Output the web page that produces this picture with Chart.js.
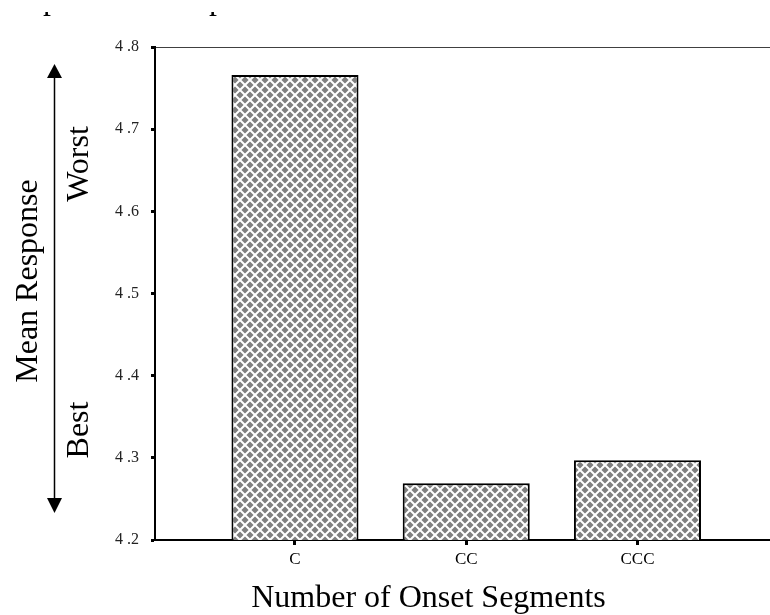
<!DOCTYPE html>
<html>
<head>
<meta charset="utf-8">
<script src="https://cdn.jsdelivr.net/npm/chart.js@4"></script>
<style>
  html, body { margin: 0; padding: 0; background: #fff; overflow: hidden; }
  #chart { display: block; }
</style>
</head>
<body>
<canvas id="chart" width="770" height="615"></canvas>
<script>
const categories = ["C", "CC", "CCC"];
const meanResponse = [4.766, 4.269, 4.297];
const yTicks = [4.2, 4.3, 4.4, 4.5, 4.6, 4.7, 4.8];
const xTitle = "Number of Onset Segments";
const yTitle = "Mean Response";
const topLabel = "Worst";
const bottomLabel = "Best";

const serif = '"Liberation Serif", "Times New Roman", serif';
Chart.defaults.font.family = serif;
Chart.defaults.color = "#000";

// grey fill with white cross-hatching
function makeHatch() {
  const tile = document.createElement("canvas");
  tile.width = 10;
  tile.height = 10;
  const t = tile.getContext("2d");
  t.fillStyle = "#7f7f7f";
  t.fillRect(0, 0, 10, 10);
  t.strokeStyle = "#fff";
  t.lineWidth = 2;
  for (let k = -1; k <= 1; k++) {
    t.beginPath();
    t.moveTo(k * 10, 0);
    t.lineTo(k * 10 + 10, 10);
    t.moveTo(k * 10 + 10, 0);
    t.lineTo(k * 10, 10);
    t.stroke();
  }
  return t.createPattern(tile, "repeat");
}

const ctx = document.getElementById("chart");
const hatch = makeHatch();

// titles, the worst/best arrow and clipped text at the top
const decorations = {
  id: "decorations",
  afterDraw(chart) {
    const c = chart.ctx;
    c.save();
    c.fillStyle = "#000";
    c.strokeStyle = "#000";
    c.font = "32px " + serif;
    c.textBaseline = "alphabetic";
    c.textAlign = "center";
    c.fillText(xTitle, 428.5, 607);

    const rotated = (text, x, y) => {
      c.save();
      c.translate(x, y);
      c.rotate(-Math.PI / 2);
      c.fillText(text, 0, 0);
      c.restore();
    };
    rotated(yTitle, 37, 281);
    rotated(topLabel, 88, 164);
    rotated(bottomLabel, 88, 430);

    c.lineWidth = 1.5;
    c.beginPath();
    c.moveTo(54.5, 76);
    c.lineTo(54.5, 500);
    c.stroke();
    c.beginPath();
    c.moveTo(54.5, 64);
    c.lineTo(47, 78);
    c.lineTo(62, 78);
    c.closePath();
    c.fill();
    c.beginPath();
    c.moveTo(54.5, 513);
    c.lineTo(47, 498);
    c.lineTo(62, 498);
    c.closePath();
    c.fill();

    // bits of a line of text cut off at the top edge
    c.beginPath();
    c.rect(0, 12, 770, 8);
    c.clip();
    c.textAlign = "left";
    c.fillText("p", 43, 9);
    c.fillText("p", 209, 9);
    c.restore();
  },
};

new Chart(ctx, {
  type: "bar",
  data: {
    datasets: [
      {
        label: yTitle,
        data: meanResponse.map((v, i) => ({ x: i, y: v })),
        backgroundColor: hatch,
        borderColor: "#000",
        borderWidth: 2,
        borderSkipped: false,
        categoryPercentage: 1,
        barPercentage: 0.742,
      },
    ],
  },
  options: {
    responsive: false,
    animation: false,
    layout: { padding: { top: 47, left: 0, right: 0, bottom: 0 } },
    plugins: {
      legend: { display: false },
      tooltip: { enabled: false },
    },
    scales: {
      x: {
        type: "linear",
        offset: false,
        min: -0.8175,
        max: 2.774,
        afterFit: (scale) => { scale.height = 75; },
        afterBuildTicks: (scale) => {
          scale.ticks = categories.map((_, i) => ({ value: i }));
        },
        ticks: {
          font: { size: 17 },
          color: "#000",
          padding: 4,
          callback: (v) => categories[v] ?? "",
        },
        grid: {
          offset: false,
          drawOnChartArea: false,
          tickLength: 5,
          tickWidth: 3,
          tickColor: "#000",
        },
        border: { color: "#000", width: 2 },
      },
      y: {
        min: yTicks[0],
        max: yTicks[yTicks.length - 1],
        afterFit: (scale) => { scale.width = 155; },
        afterBuildTicks: (scale) => {
          scale.ticks = yTicks.map((v) => ({ value: v }));
        },
        ticks: {
          font: { size: 16 },
          color: "#222",
          padding: 12,
          callback: (v) => Number(v).toFixed(1).replace(".", " ."),
        },
        grid: {
          color: (c) =>
            c.tick && Math.abs(c.tick.value - yTicks[yTicks.length - 1]) < 1e-9
              ? "#404040"
              : "rgba(0,0,0,0)",
          lineWidth: 1,
          tickLength: 4,
          tickWidth: 3,
          tickColor: "#000",
        },
        border: { color: "#000", width: 2 },
      },
    },
  },
  plugins: [decorations],
});
</script>
</body>
</html>
